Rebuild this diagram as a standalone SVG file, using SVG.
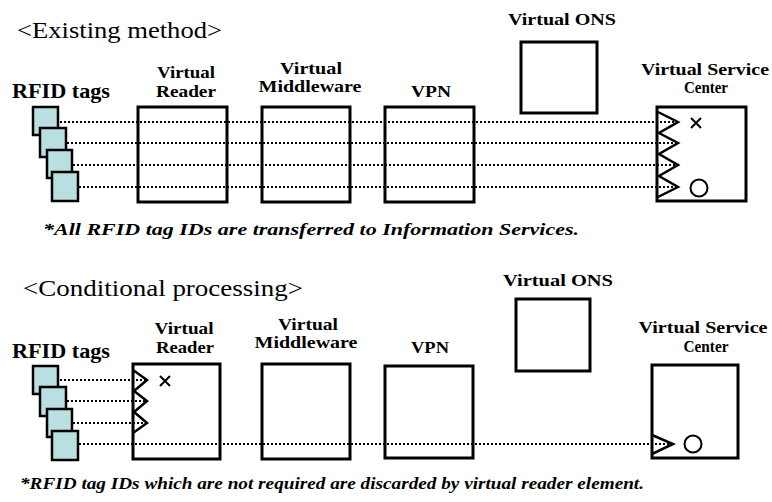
<svg xmlns="http://www.w3.org/2000/svg" width="772" height="502" viewBox="0 0 772 502">
<style>
.box{fill:none;stroke:#000;stroke-width:3}
.tag{fill:#b9dfe0;stroke:#000;stroke-width:2.5}
.dot{stroke:#000;stroke-width:2;stroke-dasharray:2 2;fill:none}
.chev{fill:none;stroke:#000;stroke-width:2.5;stroke-linejoin:miter}
.mk{fill:none;stroke:#000;stroke-width:2}
text{font-family:'Liberation Serif','Times New Roman','DejaVu Serif',serif}
.h{font-size:23px}
.lb{font-size:17px;font-weight:bold}
.rf{font-size:21px;font-weight:bold}
.cap{font-size:16px;font-weight:bold;font-style:italic}
</style>
<rect width="772" height="502" fill="#fff"/>

<!-- ===== Existing method ===== -->
<text class="h" x="17" y="38" textLength="205" lengthAdjust="spacingAndGlyphs" font-family="Liberation Serif, serif">&lt;Existing method&gt;</text>

<g id="tags1" font-family="Liberation Serif, serif">
<text class="rf" x="12" y="98" textLength="98" lengthAdjust="spacingAndGlyphs">RFID tags</text>
<rect class="tag" x="33" y="107" width="25" height="28"/>
<rect class="tag" x="40" y="128" width="26" height="29"/>
<rect class="tag" x="47" y="150" width="25" height="28"/>
<rect class="tag" x="52" y="172" width="26" height="29"/>
</g>

<g id="connectors1">
<line class="dot" x1="60" y1="122" x2="676" y2="122"/>
<line class="dot" x1="67" y1="143" x2="676" y2="143"/>
<line class="dot" x1="73" y1="165" x2="676" y2="165"/>
<line class="dot" x1="79" y1="187" x2="676" y2="187"/>
</g>

<g id="reader1" font-family="Liberation Serif, serif">
<rect class="box" x="138" y="107" width="89" height="95"/>
<text class="lb" x="186" y="78" text-anchor="middle" textLength="58" lengthAdjust="spacingAndGlyphs">Virtual</text>
<text class="lb" x="186" y="97" text-anchor="middle" textLength="60" lengthAdjust="spacingAndGlyphs">Reader</text>
</g>

<g id="middleware1" font-family="Liberation Serif, serif">
<rect class="box" x="262" y="107" width="88" height="95"/>
<text class="lb" x="311" y="74" text-anchor="middle" textLength="62" lengthAdjust="spacingAndGlyphs">Virtual</text>
<text class="lb" x="310" y="92" text-anchor="middle" textLength="103" lengthAdjust="spacingAndGlyphs">Middleware</text>
</g>

<g id="vpn1" font-family="Liberation Serif, serif">
<rect class="box" x="385" y="107" width="89" height="95"/>
<text class="lb" x="431" y="97" text-anchor="middle" textLength="40" lengthAdjust="spacingAndGlyphs">VPN</text>
</g>

<g id="ons1" font-family="Liberation Serif, serif">
<rect class="box" x="521" y="42" width="76" height="71"/>
<text class="lb" x="562" y="25" text-anchor="middle" textLength="108" lengthAdjust="spacingAndGlyphs">Virtual ONS</text>
</g>

<g id="vsc1" font-family="Liberation Serif, serif">
<rect class="box" x="657" y="107" width="89" height="94"/>
<text class="lb" x="705" y="75" text-anchor="middle" textLength="128" lengthAdjust="spacingAndGlyphs">Virtual Service</text>
<text class="lb" x="706" y="93" text-anchor="middle" textLength="44" lengthAdjust="spacingAndGlyphs">Center</text>
<polyline class="chev" points="658,112 678,122 659,133 678,143 659,154 678,165 659,176 678,187 658,197"/>
<path class="mk" d="M691,118 L701,128 M701,118 L691,128"/>
<circle class="mk" cx="699" cy="188" r="8.5"/>
</g>

<text class="cap" x="43" y="235" textLength="536" lengthAdjust="spacingAndGlyphs" font-family="Liberation Serif, serif">*All RFID tag IDs are transferred to Information Services.</text>

<!-- ===== Conditional processing ===== -->
<text class="h" x="23" y="296" textLength="280" lengthAdjust="spacingAndGlyphs" font-family="Liberation Serif, serif">&lt;Conditional processing&gt;</text>

<g id="tags2" font-family="Liberation Serif, serif">
<text class="rf" x="12" y="358" textLength="98" lengthAdjust="spacingAndGlyphs">RFID tags</text>
<rect class="tag" x="33" y="366" width="25" height="28"/>
<rect class="tag" x="40" y="387" width="26" height="29"/>
<rect class="tag" x="47" y="409" width="25" height="28"/>
<rect class="tag" x="52" y="431" width="26" height="29"/>
</g>

<g id="connectors2">
<line class="dot" x1="60" y1="380" x2="145" y2="380"/>
<line class="dot" x1="67" y1="401" x2="145" y2="401"/>
<line class="dot" x1="73" y1="423" x2="145" y2="423"/>
<line class="dot" x1="79" y1="444" x2="671" y2="444"/>
</g>

<g id="reader2" font-family="Liberation Serif, serif">
<rect class="box" x="133" y="364" width="87" height="95"/>
<text class="lb" x="184" y="334" text-anchor="middle" textLength="59" lengthAdjust="spacingAndGlyphs">Virtual</text>
<text class="lb" x="185" y="353" text-anchor="middle" textLength="58" lengthAdjust="spacingAndGlyphs">Reader</text>
<polyline class="chev" points="133,370 147,380 134,391 147,401 134,412 147,423 133,433"/>
<path class="mk" d="M160,376 L170,386 M170,376 L160,386"/>
</g>

<g id="middleware2" font-family="Liberation Serif, serif">
<rect class="box" x="262" y="364" width="88" height="95"/>
<text class="lb" x="308" y="330" text-anchor="middle" textLength="60" lengthAdjust="spacingAndGlyphs">Virtual</text>
<text class="lb" x="306" y="348" text-anchor="middle" textLength="103" lengthAdjust="spacingAndGlyphs">Middleware</text>
</g>

<g id="vpn2" font-family="Liberation Serif, serif">
<rect class="box" x="385" y="366" width="88" height="92"/>
<text class="lb" x="430" y="353" text-anchor="middle" textLength="38" lengthAdjust="spacingAndGlyphs">VPN</text>
</g>

<g id="ons2" font-family="Liberation Serif, serif">
<rect class="box" x="516" y="299" width="74" height="72"/>
<text class="lb" x="558" y="286" text-anchor="middle" textLength="110" lengthAdjust="spacingAndGlyphs">Virtual ONS</text>
</g>

<g id="vsc2" font-family="Liberation Serif, serif">
<rect class="box" x="652" y="365" width="86" height="93"/>
<text class="lb" x="703" y="333" text-anchor="middle" textLength="129" lengthAdjust="spacingAndGlyphs">Virtual Service</text>
<text class="lb" x="706" y="352" text-anchor="middle" textLength="45" lengthAdjust="spacingAndGlyphs">Center</text>
<polyline class="chev" points="652,435 673,444 652,454"/>
<circle class="mk" cx="693" cy="444" r="8.5"/>
</g>

<text class="cap" x="20" y="489" textLength="624" lengthAdjust="spacingAndGlyphs" font-family="Liberation Serif, serif">*RFID tag IDs which are not required are discarded by virtual reader element.</text>
</svg>
